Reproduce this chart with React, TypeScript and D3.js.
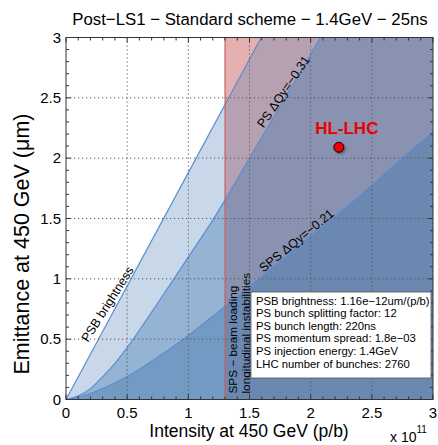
import React from "react";
import * as d3 from "d3";

// ---- data ----
const xTickValues = [0, 0.5, 1, 1.5, 2, 2.5, 3];
const xTickLabels = ["0", "0.5", "1", "1.5", "2", "2.5", "3"];
const yTickValues = [0, 0.5, 1, 1.5, 2, 2.5, 3];
const yTickLabels = ["0", "0.5", "1", "1.5", "2", "2.5", "3"];

const psbIntensity = [0, 1, 2, 3];
const psbEmittance = [0, 1.88, 3.76, 5.64];

const psIntensity = [0, 0.1, 0.2, 0.3, 0.4, 0.5, 0.75, 1.0, 1.22, 1.5, 1.75, 2.08, 2.5, 3.0];
const psEmittance = [0, 0.03, 0.09, 0.19, 0.3, 0.43, 0.8, 1.18, 1.52, 2.0, 2.43, 3.0, 3.73, 4.6];

const spsIntensity = [0, 0.1, 0.25, 0.5, 0.75, 1.0, 1.26, 1.59, 1.91, 2.38, 2.66, 3.0];
const spsEmittance = [0, 0.02, 0.07, 0.19, 0.35, 0.53, 0.74, 1.01, 1.28, 1.67, 1.92, 2.22];

const spsLoadingLimit = 1.3;

const hlName = "HL-LHC";
const hlIntensity = 2.23;
const hlEmittance = 2.09;

const legendLines = [
  "PSB brightness: 1.16e\u221212um/(p/b)",
  "PS bunch splitting factor: 12",
  "PS bunch length: 220ns",
  "PS momentum spread: 1.8e\u221203",
  "PS injection energy: 1.4GeV",
  "LHC number of bunches: 2760",
];

const titleText = "Post\u2212LS1 \u2212 Standard scheme \u2212 1.4GeV \u2212 25ns";
const xLabel = "Intensity at 450 GeV (p/b)";
const yLabel = "Emittance at 450 GeV (\u03bcm)";

// ---- layout ----
const W = 438;
const H = 445;
const L = 66, R = 433, T = 37.5, B = 399.5;
const FONT = "'Liberation Sans', Arial, Helvetica, sans-serif";

const blue = "rgb(72,125,178)";
const lineBlue = "rgb(92,142,210)";

export default function App() {
  const x = d3.scaleLinear().domain([0, 3]).range([L, R]);
  const y = d3.scaleLinear().domain([0, 3]).range([B, T]);

  const mk = (xs: number[], ys: number[]) => xs.map((v, i) => [v, ys[i]] as [number, number]);
  const psb = mk(psbIntensity, psbEmittance);
  const ps = mk(psIntensity, psEmittance);
  const sps = mk(spsIntensity, spsEmittance);

  const area = d3
    .area<[number, number]>()
    .x((d) => x(d[0]))
    .y0(y(0))
    .y1((d) => y(d[1]))
    .curve(d3.curveMonotoneX);
  const line = d3
    .line<[number, number]>()
    .x((d) => x(d[0]))
    .y((d) => y(d[1]))
    .curve(d3.curveMonotoneX);

  const minorX = d3.range(0, 3.0001, 0.1);
  const minorY = d3.range(0, 3.0001, 0.1);

  const ang = (x0: number, y0: number, x1: number, y1: number) =>
    (Math.atan2(y(y1) - y(y0), x(x1) - x(x0)) * 180) / Math.PI;

  return (
    <div style={{ position: "absolute", left: 0, top: 0 }}>
      <svg width={W} height={H} style={{ display: "block", fontFamily: FONT }}>
        <defs>
          <clipPath id="plotClip">
            <rect x={L} y={T} width={R - L} height={B - T} />
          </clipPath>
          <filter id="shadow" x="-50%" y="-50%" width="200%" height="200%">
            <feGaussianBlur stdDeviation="1.2" />
          </filter>
        </defs>
        <rect x={0} y={0} width={W} height={H} fill="white" />
        <g clipPath="url(#plotClip)">
          <rect x={L} y={T} width={R - L} height={B - T} fill="white" />
          <rect
            x={x(spsLoadingLimit)}
            y={T}
            width={x(3) - x(spsLoadingLimit)}
            height={B - T}
            fill="rgb(228,176,176)"
          />
          <path d={area(psb) || ""} fill={blue} fillOpacity={0.3} />
          <path d={area(ps) || ""} fill={blue} fillOpacity={0.4} />
          <path d={area(sps) || ""} fill={blue} fillOpacity={0.45} />
          <path d={line(psb) || ""} fill="none" stroke={lineBlue} strokeWidth={1.2} />
          <path d={line(ps) || ""} fill="none" stroke={lineBlue} strokeWidth={1.2} />
          <path d={line(sps) || ""} fill="none" stroke={lineBlue} strokeWidth={1.2} />
          <line
            x1={x(spsLoadingLimit)}
            x2={x(spsLoadingLimit)}
            y1={T}
            y2={B}
            stroke="rgb(200,95,95)"
            strokeWidth={1.2}
          />
        </g>
        {/* grid */}
        <g stroke="#555" strokeWidth={1} strokeDasharray="1.2,2.8">
          {xTickValues.slice(1, -1).map((v) => (
            <line key={"gx" + v} x1={x(v)} x2={x(v)} y1={T} y2={B} />
          ))}
          {yTickValues.slice(1, -1).map((v) => (
            <line key={"gy" + v} x1={L} x2={R} y1={y(v)} y2={y(v)} />
          ))}
        </g>
        {/* ticks */}
        <g stroke="#333" strokeWidth={1}>
          {minorX.map((v, i) => {
            const major = i % 5 === 0;
            const len = major ? 5 : 3;
            return (
              <g key={"tx" + i}>
                <line x1={x(v)} x2={x(v)} y1={B} y2={B - len} />
                <line x1={x(v)} x2={x(v)} y1={T} y2={T + len} />
              </g>
            );
          })}
          {minorY.map((v, i) => {
            const major = i % 5 === 0;
            const len = major ? 5 : 3;
            return (
              <g key={"ty" + i}>
                <line x1={L} x2={L + len} y1={y(v)} y2={y(v)} />
                <line x1={R} x2={R - len} y1={y(v)} y2={y(v)} />
              </g>
            );
          })}
        </g>
        <rect x={L} y={T} width={R - L} height={B - T} fill="none" stroke="#333" strokeWidth={1} />

        {/* tick labels */}
        <g fontSize={15} fill="#000">
          {xTickValues.map((v, i) => (
            <text key={"xl" + i} x={x(v)} y={B + 18} textAnchor="middle">
              {xTickLabels[i]}
            </text>
          ))}
          {yTickValues.map((v, i) => (
            <text key={"yl" + i} x={L - 5} y={y(v) + 5} textAnchor="end">
              {yTickLabels[i]}
            </text>
          ))}
        </g>

        {/* curve labels */}
        <text
          transform={`translate(${x(0.18)},${y(0.47)}) rotate(${ang(0, 0, 1, 1.6)})`}
          fontSize={12.5}
        >
          PSB brightness
        </text>
        <text
          transform={`translate(${x(1.615)},${y(2.245)}) rotate(${ang(0, 0, 1, 1.5)})`}
          fontSize={12.5}
        >
          PS ΔQy=−0.31
        </text>
        <text
          transform={`translate(${x(1.614)},${y(1.05)}) rotate(${ang(0, 0, 1, 0.82)})`}
          fontSize={12.5}
        >
          SPS ΔQy=−0.21
        </text>
        <g transform={`translate(${x(spsLoadingLimit) + 12},${B - 6}) rotate(-90)`} fontSize={11.8}>
          <text x={0} y={0}>SPS − beam loading</text>
          <text x={0} y={12.5}>longitudinal instabilities</text>
        </g>

        {/* legend box */}
        <g>
          <rect x={251} y={292} width={180} height={86} fill="white" stroke="#555" strokeWidth={0.8} />
          {legendLines.map((s, i) => (
            <text key={"lg" + i} x={256} y={304.5 + i * 12.6} fontSize={11.3}>
              {s}
            </text>
          ))}
        </g>

        {/* HL-LHC point */}
        <circle cx={x(hlIntensity) + 1.5} cy={y(hlEmittance) + 1.5} r={5.5} fill="#444" opacity={0.6} filter="url(#shadow)" />
        <circle cx={x(hlIntensity)} cy={y(hlEmittance)} r={5} fill="rgb(240,0,0)" stroke="#000" strokeWidth={1} />
        <text x={x(hlIntensity) + 8} y={y(hlEmittance) - 13} fontSize={17} fontWeight="bold" fill="rgb(235,0,0)" textAnchor="middle">
          {hlName}
        </text>

        {/* title & axis labels */}
        <text x={250} y={25} fontSize={16.8} textAnchor="middle">
          {titleText}
        </text>
        <text x={249} y={437} fontSize={17.5} textAnchor="middle">
          {xLabel}
        </text>
        <text transform={`translate(29,244) rotate(-90)`} fontSize={21.5} textAnchor="middle">
          {yLabel}
        </text>
        <text x={390} y={442} fontSize={14}>
          x 10
          <tspan fontSize={10} dy={-9}>11</tspan>
        </text>
      </svg>
    </div>
  );
}
